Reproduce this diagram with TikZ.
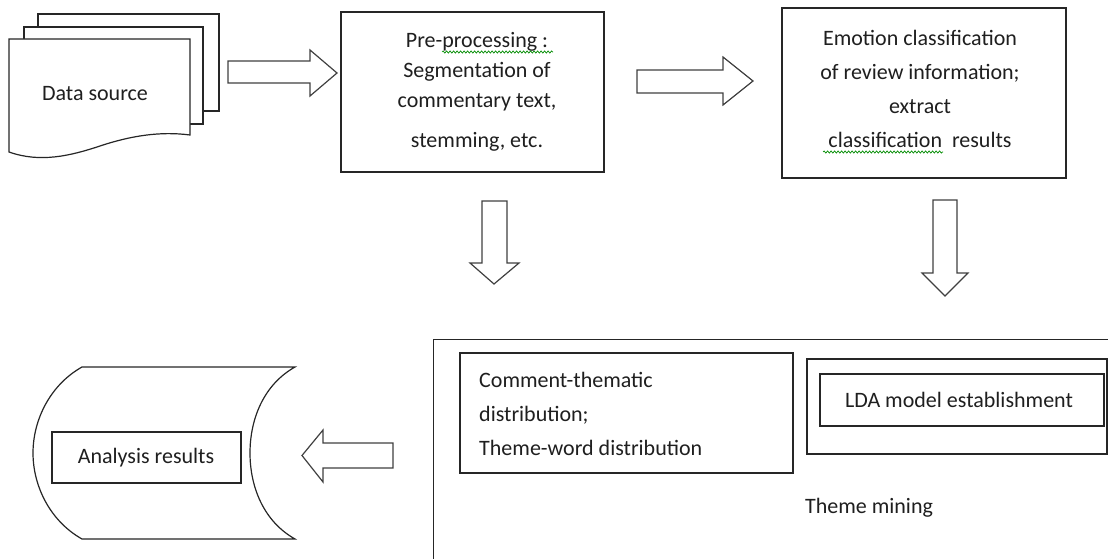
\documentclass[tikz,border=0pt]{standalone}
\usepackage{fontspec}
\setmainfont{Carlito}
\usetikzlibrary{decorations.pathmorphing}
\begin{document}
\begin{tikzpicture}[x=1pt,y=-1pt,
  outline/.style={draw=black!85, line width=1.2pt, fill=white, line join=miter},
  box/.style={outline, inner sep=0pt},
  txt/.style={font=\fontsize{22}{34}\selectfont, text=black!88, inner sep=0pt},
  blockarrow/.style={draw=black!75, line width=1.2pt, fill=white, line join=miter},
  spell/.style={draw=green!55!black, line width=0.7pt, decorate,
    decoration={snake, amplitude=1.1pt, segment length=3.5pt}}
]
\useasboundingbox (0,0) rectangle (1108,559);

% stacked documents: data source
\draw[outline] (38,14) rectangle (219,111);
\draw[outline] (24,27) rectangle (203,124);
\draw[outline] (9,39) -- (190,39) -- (190,135)
  .. controls (160,131) and (130,136) .. (100,146)
  .. controls (70,156) and (40,163) .. (9,152) -- cycle;
\node[txt] (src) at (95,94) {Data source};

% pre-processing
\node[box, minimum width=263pt, minimum height=160pt] (pre) at (472.5,92) {};
\node[txt, align=center, font=\fontsize{22}{30}\selectfont] (pretext) at (477,92)
  {Pre-processing :\\Segmentation of\\commentary text,\\[10pt]stemming, etc.};
\draw[spell] (442,52) -- (553,52);

% emotion classification
\node[box, minimum width=284pt, minimum height=170pt] (emo) at (924,93) {};
\node[txt, align=center] (emotext) at (920,88.5)
  {Emotion classification\\of review information;\\extract\\classification\ \ results};
\draw[spell] (823,152) -- (943,152);

% block arrows of the upper row
\draw[blockarrow] (228,61) -- (310,61) -- (310,50) -- (337,73) -- (310,96)
  -- (310,83) -- (228,83) -- cycle;
\draw[blockarrow] (637,70) -- (723,70) -- (723,57) -- (753,81) -- (723,105)
  -- (723,93) -- (637,93) -- cycle;
\draw[blockarrow] (482,201) -- (507,201) -- (507,263) -- (519,263) -- (494,284)
  -- (470,263) -- (482,263) -- cycle;
\draw[blockarrow] (933,200) -- (957,200) -- (957,273) -- (968,273) -- (945,296)
  -- (922,273) -- (933,273) -- cycle;

% theme mining frame
\begin{scope}
  \clip (0,0) rectangle (1108,559);
  \node[box, anchor=north west, minimum width=720pt, minimum height=260pt]
    (theme) at (433,339) {};
\end{scope}
\node[box, minimum width=333pt, minimum height=120pt] (dist) at (626.5,413) {};
\node[txt, align=left, anchor=west] (disttext) at (479,414)
  {Comment-thematic\\distribution;\\Theme-word distribution};
\node[box, minimum width=300pt, minimum height=95pt] (ldaouter) at (957,406.5) {};
\node[box, minimum width=284pt, minimum height=52pt] (lda) at (962,400) {};
\node[txt] (ldatext) at (959,400) {LDA model establishment};
\node[txt] (themetext) at (869,508) {Theme mining};

% arrow back to the results
\draw[blockarrow] (393,443) -- (323,443) -- (323,430) -- (302,455.5) -- (323,482)
  -- (323,468) -- (393,468) -- cycle;

% stored data: analysis results
\draw[outline] (295,367) -- (82,367)
  .. controls (50,385) and (33,420) .. (33,453)
  .. controls (33,486) and (50,521) .. (82,539) -- (295,539)
  .. controls (263,521) and (250,486) .. (250,453)
  .. controls (250,420) and (263,385) .. (295,367) -- cycle;
\node[box, minimum width=189pt, minimum height=51pt] (res) at (146.5,457.5) {};
\node[txt] (restext) at (146,458) {Analysis results};
\end{tikzpicture}
\end{document}
